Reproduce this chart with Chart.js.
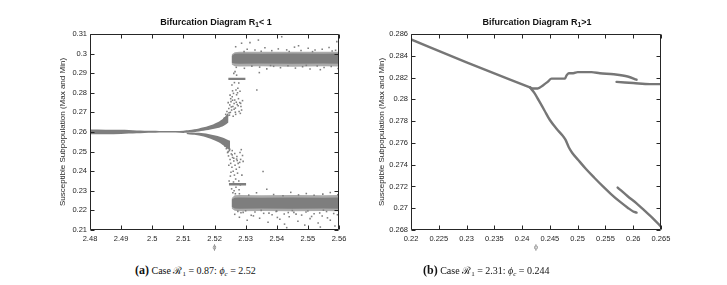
<!DOCTYPE html>
<html><head><meta charset="utf-8">
<script src="https://cdn.jsdelivr.net/npm/chart.js@4.4.0/dist/chart.umd.min.js"></script>
<style>
html,body{margin:0;padding:0;background:#fff;width:727px;height:285px;overflow:hidden;position:relative;font-family:"Liberation Sans",Arial,sans-serif}
canvas{position:absolute;top:0}
#c1{left:0}
#c2{left:330px}
.ttl{position:absolute;top:17px;font-weight:bold;font-size:9px;line-height:11px;color:#111;white-space:nowrap;transform:translateX(-50%)}
.ttl sub{font-size:6.5px;vertical-align:-2px;line-height:0}
.cap{position:absolute;top:264px;font-family:"Liberation Serif","Times New Roman",serif;font-size:10px;line-height:13px;white-space:nowrap;color:#111}
.cap b{font-size:12px}
.cap sub{font-size:7px;vertical-align:-2px;line-height:0}
</style></head><body>
<canvas id="c1" width="360" height="260"></canvas>
<canvas id="c2" width="360" height="260"></canvas>
<div class="ttl" style="left:216px">Bifurcation Diagram R<sub>1</sub>&lt; 1</div>
<div class="ttl" style="left:537px">Bifurcation Diagram R<sub>1</sub>&gt;1</div>
<div class="cap" style="left:135px"><b>(a)</b> Case ℛ<sub>1</sub> = 0.87: <i>ϕ<sub>c</sub></i> = 2.52</div>
<div class="cap" style="left:423px"><b>(b)</b> Case ℛ<sub>1</sub> = 2.31: <i>ϕ<sub>c</sub></i> = 0.244</div>
<script>
// ---------- Left panel (R1 < 1) ----------
const leftXTicks = [2.48, 2.49, 2.50, 2.51, 2.52, 2.53, 2.54, 2.55, 2.56];
const leftYTicks = [0.21, 0.22, 0.23, 0.24, 0.25, 0.26, 0.27, 0.28, 0.29, 0.30, 0.31];

// stable branch + upper branch of the period-2 split (dense region)
const regAX   = [2.48, 2.49, 2.495, 2.50, 2.505, 2.51, 2.512, 2.515, 2.518, 2.521, 2.523, 2.5245];
const regATop = [0.2613, 0.2611, 0.2608, 0.2606, 0.2605, 0.2607, 0.2610, 0.2618, 0.2630, 0.2650, 0.2672, 0.2700];
const regABot = [0.2588, 0.2590, 0.2593, 0.2596, 0.2597, 0.2595, 0.2597, 0.2603, 0.2610, 0.2620, 0.2632, 0.2648];
// lower branch of the split
const regBX   = [2.511, 2.513, 2.515, 2.518, 2.521, 2.523, 2.525];
const regBTop = [0.2595, 0.2596, 0.2596, 0.2590, 0.2580, 0.2570, 0.2555];
const regBBot = [0.2590, 0.2586, 0.2582, 0.2570, 0.2550, 0.2530, 0.2505];
// upper chaotic band (~0.297): outer fuzzy edge and dense core
const bandUpX    = [2.5255, 2.5265, 2.528, 2.535, 2.545, 2.555, 2.56];
const bandUpOTop = [0.2995, 0.3007, 0.3010, 0.3009, 0.3010, 0.3009, 0.3010];
const bandUpOBot = [0.2945, 0.2936, 0.2934, 0.2935, 0.2933, 0.2935, 0.2934];
const bandUpCTop = [0.2988, 0.2999, 0.3000, 0.2999, 0.3000, 0.2999, 0.3000];
const bandUpCBot = [0.2953, 0.2949, 0.2948, 0.2949, 0.2948, 0.2949, 0.2948];
// lower chaotic band (~0.224)
const bandLoX    = [2.5255, 2.5265, 2.528, 2.535, 2.545, 2.555, 2.56];
const bandLoOTop = [0.2262, 0.2277, 0.2278, 0.2277, 0.2278, 0.2277, 0.2278];
const bandLoOBot = [0.2210, 0.2198, 0.2196, 0.2197, 0.2196, 0.2197, 0.2196];
const bandLoCTop = [0.2255, 0.2265, 0.2266, 0.2265, 0.2266, 0.2265, 0.2266];
const bandLoCBot = [0.2218, 0.2210, 0.2209, 0.2210, 0.2209, 0.2210, 0.2209];
// small clusters at 0.287 and 0.233
const clHiX = [2.5244, 2.5300]; const clHiTop = [0.2877, 0.2877]; const clHiBot = [0.2865, 0.2865];
const clLoX = [2.5246, 2.5302]; const clLoTop = [0.2340, 0.2340]; const clLoBot = [0.2327, 0.2327];

// scattered iterates
const scatX = [
 2.5232,2.5236,2.5240,2.5243,2.5246,2.5249,2.5251,2.5253,2.5255,2.5257,2.5259,2.5261,2.5263,2.5265,2.5267,2.5269,2.5271,2.5273,2.5275,2.5277,
 2.5279,2.5281,2.5283,2.5285,2.5287,2.5256,2.5262,2.5266,2.5271,2.5248,2.5244,2.5252,2.5260,2.5268,2.5274,2.5278,2.5282,2.5290,2.5258,2.5264,
 2.5222,2.5226,2.5229,2.5231,2.5234,2.5238,2.5241,2.5247,2.5254,2.5263,2.5270,2.5276,2.5284,2.5250,2.5258,2.5267,
 2.5238,2.5242,2.5245,2.5248,2.5250,2.5252,2.5254,2.5256,2.5258,2.5260,2.5262,2.5264,2.5266,2.5268,2.5270,2.5272,2.5274,2.5276,2.5278,2.5280,
 2.5282,2.5284,2.5286,2.5288,2.5290,2.5247,2.5251,2.5255,2.5259,2.5263,2.5267,2.5253,2.5261,2.5269,2.5246,2.5279,2.5283,2.5292,2.5257,2.5265,
 2.5224,2.5228,2.5231,2.5234,2.5240,2.5249,2.5257,2.5271,2.5281,2.5244,2.5262,2.5273,
 2.5268,2.5287,2.5314,2.5341,2.5416,2.5593,2.5305,2.5330,2.5362,2.5384,2.5405,2.5432,2.5457,2.5478,2.5501,2.5523,2.5546,2.5568,2.5589,2.5350,
 2.5440,2.5515,2.5578,2.5295,2.5470,2.5270,2.5296,2.5320,2.5345,2.5368,2.5390,2.5412,2.5436,2.5460,2.5483,2.5507,2.5530,2.5552,2.5575,2.5597,
 2.5380,2.5495,2.5540,2.5336,2.5344,
 2.5280,2.5310,2.5335,2.5368,2.5390,2.5420,2.5445,2.5470,2.5495,2.5520,2.5548,2.5572,2.5596,2.5356,
 2.5265,2.5280,2.5292,2.5305,2.5318,2.5330,2.5345,2.5358,2.5372,2.5385,2.5398,2.5410,2.5424,2.5432,2.5440,2.5455,2.5468,2.5480,2.5494,2.5507,
 2.5520,2.5533,2.5546,2.5560,2.5572,2.5587,2.5595,2.5300,2.5350,2.5400,2.5450,2.5500,2.5550,2.5275,2.5425,2.5490,2.5540,
 2.5285,2.5325,2.5375,2.5402,2.5437,2.5462,2.5512,2.5538,2.5563,2.5583
];
const scatY = [
 0.2672,0.2690,0.2705,0.2684,0.2720,0.2738,0.2700,0.2755,0.2712,0.2780,0.2730,0.2797,0.2745,0.2763,0.2722,0.2814,0.2790,0.2740,0.2823,0.2770,
 0.2705,0.2750,0.2695,0.2730,0.2712,0.2840,0.2899,0.2908,0.2890,0.2686,0.2750,0.2770,0.2680,0.2690,0.2800,0.2850,0.2808,0.2760,0.2810,0.2852,
 0.2645,0.2658,0.2640,0.2668,0.2655,0.2662,0.2676,0.2698,0.2728,0.2716,0.2752,0.2734,0.2746,0.2788,0.2762,0.2701,
 0.2515,0.2495,0.2478,0.2505,0.2460,0.2440,0.2488,0.2420,0.2470,0.2400,0.2452,0.2380,0.2430,0.2360,0.2410,0.2475,0.2390,0.2440,0.2350,0.2420,
 0.2495,0.2460,0.2510,0.2380,0.2480,0.2350,0.2375,0.2310,0.2290,0.2300,0.2285,0.2395,0.2345,0.2318,0.2430,0.2305,0.2330,0.2450,0.2505,0.2490,
 0.2560,0.2548,0.2540,0.2528,0.2520,0.2512,0.2483,0.2462,0.2445,0.2500,0.2466,0.2455,
 0.3035,0.3053,0.3056,0.3069,0.3086,0.3061,0.3022,0.3018,0.3030,0.3015,0.3024,0.3019,0.3033,0.3016,0.3027,0.3018,0.3022,0.3031,0.3017,0.3012,
 0.3011,0.3010,0.3013,0.3010,0.3040,0.2930,0.2925,0.2936,0.2931,0.2922,0.2935,0.2928,0.2938,0.2926,0.2933,0.2921,0.2937,0.2929,0.2934,0.2924,
 0.2939,0.2940,0.2918,0.2814,0.2903,
 0.2285,0.2278,0.2290,0.2308,0.2281,0.2275,0.2292,0.2279,0.2286,0.2277,0.2283,0.2291,0.2280,0.2398,
 0.2180,0.2165,0.2190,0.2150,0.2175,0.2192,0.2160,0.2185,0.2140,0.2178,0.2195,0.2155,0.2182,0.2112,0.2168,0.2190,0.2145,0.2176,0.2192,0.2158,
 0.2183,0.2136,0.2171,0.2194,0.2150,0.2120,0.2178,0.2198,0.2200,0.2196,0.2199,0.2197,0.2201,0.2195,0.2130,0.2125,0.2115,
 0.2188,0.2172,0.2186,0.2164,0.2189,0.2181,0.2169,0.2187,0.2162,0.2184
];

// ---------- Right panel (R1 > 1) ----------
const rightXTicks = [0.22, 0.225, 0.23, 0.235, 0.24, 0.245, 0.25, 0.255, 0.26, 0.265];
const rightYTicks = [0.268, 0.27, 0.272, 0.274, 0.276, 0.278, 0.28, 0.282, 0.284, 0.286];

const mainX = [0.2200, 0.2300, 0.2414];
const mainY = [0.2855, 0.2834, 0.2811];
const upBrX = [0.2414, 0.2420, 0.2428, 0.2438, 0.2446, 0.2453, 0.2465, 0.2477, 0.2480, 0.2484, 0.2492, 0.2500, 0.2512, 0.2525, 0.2540, 0.2565, 0.2590, 0.2606];
const upBrY = [0.2811, 0.2810, 0.2810, 0.2813, 0.2816, 0.2819, 0.2819, 0.2819, 0.2822, 0.2824, 0.2824, 0.2825, 0.2825, 0.2825, 0.2824, 0.2823, 0.2821, 0.2818];
const upPieceX = [0.2570, 0.2600, 0.2630, 0.2651];
const upPieceY = [0.2816, 0.2815, 0.2814, 0.2814];
const loBrX = [0.2414, 0.2422, 0.2430, 0.2440, 0.2450, 0.2462, 0.2474, 0.2478, 0.2484, 0.2490, 0.2501, 0.2515, 0.2530, 0.2546, 0.2560, 0.2576, 0.2590, 0.2600, 0.2606];
const loBrY = [0.2811, 0.2806, 0.2799, 0.2790, 0.2781, 0.2773, 0.2766, 0.2763, 0.2756, 0.2751, 0.27443, 0.2736, 0.2728, 0.27198, 0.2713, 0.2706, 0.27005, 0.2697, 0.2696];
const loPieceX = [0.2572, 0.2590, 0.2606, 0.2620, 0.2635, 0.2650];
const loPieceY = [0.2719, 0.2711, 0.27045, 0.2698, 0.2691, 0.2683];

// ---------- helpers ----------
const GRAY = '#7e7e7e';
const LIGHT = '#ababab';
const pts = (xs, ys) => xs.map((x, i) => ({x: x, y: ys[i]}));
const fmt = v => String(parseFloat(Number(v).toFixed(4)));

const boxTicks = {
  id: 'boxTicks',
  afterDatasetsDraw(chart) {
    const {ctx, chartArea: a, scales: {x, y}} = chart;
    const L = Math.round(a.left) + 0.5, R = Math.round(a.right) - 0.5;
    const T = Math.round(a.top) + 0.5, B = Math.round(a.bottom) - 0.5;
    ctx.save();
    ctx.strokeStyle = '#262626';
    ctx.lineWidth = 1;
    ctx.beginPath();
    ctx.rect(L, T, R - L, B - T);
    const tl = 4;
    x.ticks.forEach(t => {
      const px = Math.round(x.getPixelForValue(t.value)) + 0.5;
      ctx.moveTo(px, B); ctx.lineTo(px, B - tl);
      ctx.moveTo(px, T); ctx.lineTo(px, T + tl);
    });
    y.ticks.forEach(t => {
      const py = Math.round(y.getPixelForValue(t.value)) + 0.5;
      ctx.moveTo(L, py); ctx.lineTo(L + tl, py);
      ctx.moveTo(R, py); ctx.lineTo(R - tl, py);
    });
    ctx.stroke();
    ctx.restore();
  }
};

// order: lower value is drawn later (on top)
function fillPair(xs, top, bot, color, order, tension) {
  const t = tension || 0;
  return [
    {data: pts(xs, top), order: order, borderWidth: 0, pointRadius: 0, fill: false, backgroundColor: color, borderColor: color, tension: t},
    {data: pts(xs, bot), order: order, borderWidth: 0, pointRadius: 0, fill: '-1', backgroundColor: color, borderColor: color, tension: t}
  ];
}

function makeOptions(xT, yT, xMin, xMax, yMin, yMax, yW, yTitlePad, padRight) {
  const tickFont = {family: '"Liberation Sans", Arial, sans-serif', size: 7.5};
  return {
    responsive: false, animation: false, events: [],
    layout: {padding: {left: 0, right: padRight, top: 34, bottom: 0}},
    plugins: {legend: {display: false}, tooltip: {enabled: false}, title: {display: false}},
    scales: {
      x: {
        type: 'linear', min: xMin, max: xMax,
        grid: {display: false, drawTicks: false}, border: {display: false},
        afterBuildTicks: s => { s.ticks = xT.map(v => ({value: v})); },
        afterFit: s => { s.height = 30; },
        ticks: {padding: 4, color: '#262626', font: tickFont, callback: fmt, autoSkip: false, maxRotation: 0},
        title: {display: true, text: 'ϕ', color: '#777', font: {family: '"Liberation Sans", Arial, sans-serif', size: 7}, padding: {top: 0, bottom: 9}}
      },
      y: {
        type: 'linear', min: yMin, max: yMax,
        grid: {display: false, drawTicks: false}, border: {display: false},
        afterBuildTicks: s => { s.ticks = yT.map(v => ({value: v})); },
        afterFit: s => { s.width = yW; },
        ticks: {padding: 3, color: '#262626', font: tickFont, callback: fmt, autoSkip: false},
        title: {display: true, text: 'Susceptible Subpopulation (Max and Min)', color: '#262626', font: {family: '"Liberation Sans", Arial, sans-serif', size: 8}, padding: {top: yTitlePad, bottom: 0}}
      }
    }
  };
}

new Chart(document.getElementById('c1'), {
  type: 'line',
  data: {datasets: [
    {data: pts(scatX, scatY), order: 0, showLine: false, pointRadius: 1.1, pointStyle: 'rect', pointBorderWidth: 0, pointBackgroundColor: GRAY, backgroundColor: GRAY},
    ...fillPair(regAX, regATop, regABot, GRAY, 1, 0.3),
    ...fillPair(regBX, regBTop, regBBot, GRAY, 1, 0.3),
    ...fillPair(bandUpX, bandUpCTop, bandUpCBot, GRAY, 1),
    ...fillPair(bandLoX, bandLoCTop, bandLoCBot, GRAY, 1),
    ...fillPair(clHiX, clHiTop, clHiBot, GRAY, 1),
    ...fillPair(clLoX, clLoTop, clLoBot, GRAY, 1),
    ...fillPair(bandUpX, bandUpOTop, bandUpOBot, LIGHT, 5),
    ...fillPair(bandLoX, bandLoOTop, bandLoOBot, LIGHT, 5)
  ]},
  options: makeOptions(leftXTicks, leftYTicks, 2.48, 2.56, 0.21, 0.31, 90, 58, 21),
  plugins: [boxTicks]
});

function lineDs(xs, ys) {
  return {data: pts(xs, ys), borderColor: '#767676', borderWidth: 2.4, pointRadius: 0, fill: false, cubicInterpolationMode: 'monotone', borderCapStyle: 'round'};
}

new Chart(document.getElementById('c2'), {
  type: 'line',
  data: {datasets: [
    lineDs(mainX, mainY),
    lineDs(upBrX, upBrY),
    lineDs(upPieceX, upPieceY),
    lineDs(loBrX, loBrY),
    lineDs(loPieceX, loPieceY)
  ]},
  options: makeOptions(rightXTicks, rightYTicks, 0.22, 0.265, 0.268, 0.286, 81, 47, 29),
  plugins: [boxTicks]
});
</script>
</body></html>
